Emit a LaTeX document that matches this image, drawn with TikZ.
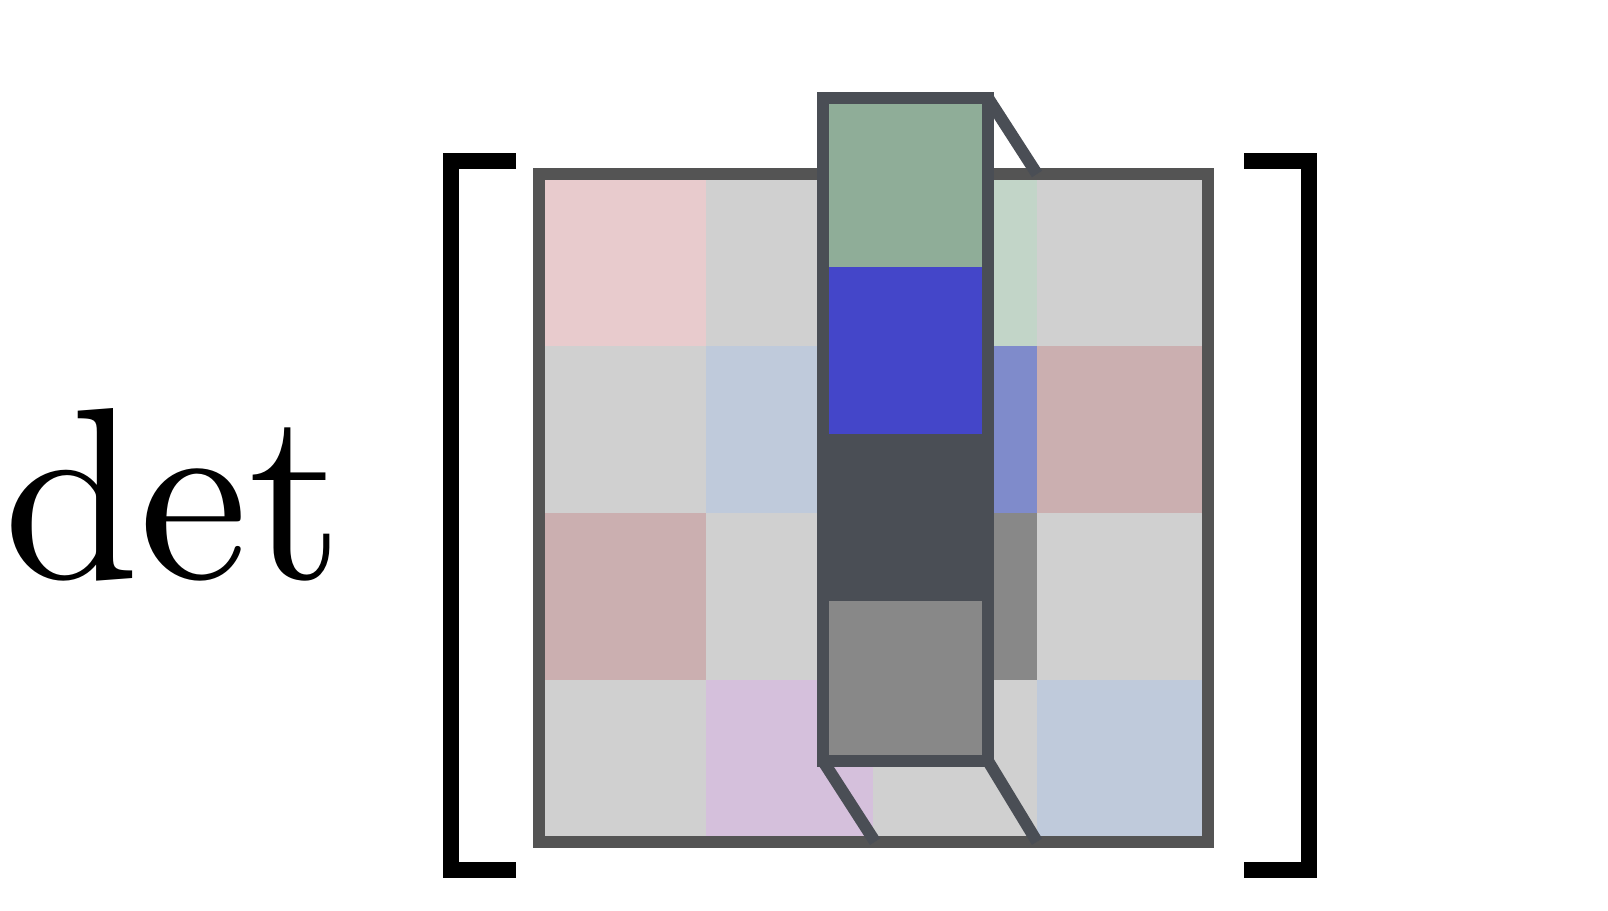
\documentclass[tikz,border=0pt]{standalone}
\usepackage{fontspec}
\usepackage{xcolor}
\usepackage{tikz}
\usetikzlibrary{positioning}

\newfontfamily\detfont{lmroman10-regular.otf}

\definecolor{framegray}{HTML}{545454}
\definecolor{coldark}{HTML}{4A4E55}
\definecolor{cellgray}{HTML}{D0D0D0}
\definecolor{cpink}{HTML}{E8CBCD}
\definecolor{clblue}{HTML}{BFCADB}
\definecolor{cbrown}{HTML}{CBAFB0}
\definecolor{clavender}{HTML}{D5C0DC}
\definecolor{clgreen}{HTML}{C2D5C8}
\definecolor{cmblue}{HTML}{7F8BCB}
\definecolor{cmgray}{HTML}{888888}
\definecolor{cgreen}{HTML}{8FAD98}
\definecolor{cblue}{HTML}{4446C9}

\begin{document}
\begin{tikzpicture}[x=1pt, y=-1pt,
    frame/.style={draw=framegray, line width=12pt},
    colframe/.style={draw=coldark, line width=12pt},
    link/.style={draw=coldark, line width=12pt},
    bracket/.style={draw=black, line width=16pt, line join=miter}]
        \useasboundingbox (0,0) rectangle (1608,910);

        \node[anchor=base west, inner sep=0pt, font=\detfont\fontsize{245}{245}\selectfont] (det) at (3,578) {det};

        % the matrix
        \fill[cellgray] (539,174) rectangle (1207.5,841.7);
        \foreach \c/\r/\clr in {1/1/cpink, 3/1/clgreen, 2/2/clblue, 3/2/cmblue, 4/2/cbrown,
                                1/3/cbrown, 3/3/cmgray, 2/4/clavender, 4/4/clblue} {
            \pgfmathsetmacro\xa{{539,706,873,1037,1207.5}[\c-1]}
            \pgfmathsetmacro\xb{{539,706,873,1037,1207.5}[\c]}
            \pgfmathsetmacro\ya{{174,346,513,680,841.7}[\r-1]}
            \pgfmathsetmacro\yb{{174,346,513,680,841.7}[\r]}
            \fill[\clr] (\xa,\ya) rectangle (\xb,\yb);
        }
        \draw[frame] (539,174) rectangle (1207.5,841.7);

        % the column taken out
        \coordinate (colTL) at (823,98);
        \coordinate (colTR) at (988,98);
        \coordinate (colBL) at (823,761);
        \coordinate (colBR) at (988,761);
        \coordinate (matTR) at (1037,174);
        \coordinate (matBL) at (875,841.7);
        \coordinate (matBR) at (1037,841.7);

        \fill[coldark] (colTL) rectangle (colBR);
        \fill[cgreen] (823,98) rectangle (988,267);
        \fill[cblue] (823,267) rectangle (988,434);
        \fill[cmgray] (823,601) rectangle (988,761);

        \draw[link] (colTR) -- (matTR);
        \draw[link] (colBL) -- (matBL);
        \draw[link] (colBR) -- (matBR);
        \draw[colframe] (colTL) rectangle (colBR);

        % brackets
        \draw[bracket] (516,161.3) -- (451.3,161.3) -- (451.3,870) -- (516,870);
        \draw[bracket] (1244.3,161.3) -- (1308.8,161.3) -- (1308.8,870) -- (1244.3,870);
\end{tikzpicture}
\end{document}
